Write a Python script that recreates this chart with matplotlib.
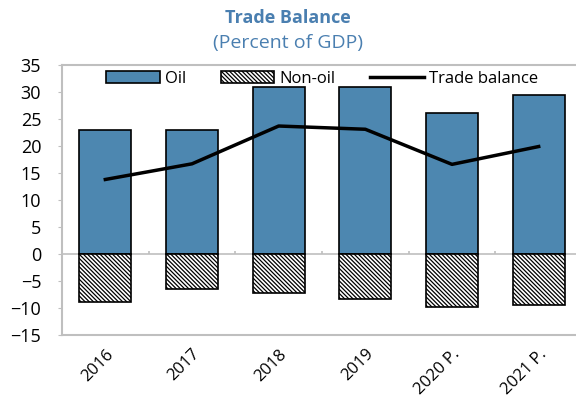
#!/usr/bin/env python3
"""Trade balance chart: oil and non-oil components, percent of GDP."""

import matplotlib
matplotlib.use("Agg")
import matplotlib.pyplot as plt
import numpy as np

years = ["2016", "2017", "2018", "2019", "2020 P.", "2021 P."]
oil = [22.9, 22.9, 30.9, 30.9, 26.2, 29.4]
non_oil = [-8.8, -6.4, -7.2, -8.3, -9.8, -9.5]
trade_balance = [13.8, 16.7, 23.7, 23.1, 16.6, 19.9]

TITLE_COLOR = "#4a7fb0"
OIL_COLOR = "#4d87b0"
FRAME_COLOR = "#bfbfbf"

plt.rcParams["font.family"] = ["Open Sans", "DejaVu Sans"]
plt.rcParams["hatch.linewidth"] = 0.9

fig = plt.figure(figsize=(5.76, 4.0), dpi=100)
ax = fig.add_axes([62 / 576, (400 - 335) / 400, (582 - 62) / 576, 270 / 400])

x = np.arange(len(years))
h_oil = ax.bar(x, oil, width=0.6, color=OIL_COLOR, edgecolor="black", linewidth=1.2,
               label="Oil", zorder=2)
h_non = ax.bar(x, non_oil, width=0.6, color="white", edgecolor="black", linewidth=1.2,
               hatch="\\\\\\\\\\\\\\\\", label="Non-oil", zorder=2)
h_tb, = ax.plot(x, trade_balance, color="black", linewidth=2.5, label="Trade balance",
                zorder=3)

ax.axhline(0, color=FRAME_COLOR, linewidth=1.2, zorder=1)
# small category separators on the zero line
ax.vlines(x[:-1] + 0.5, 0, 0.6, color=FRAME_COLOR, linewidth=1.2, zorder=1)

ax.set_xlim(-0.5, len(years) - 0.5)
ax.set_ylim(-15, 35)
ax.set_yticks(np.arange(-15, 36, 5))
ax.set_xticks(x)
ax.set_xticklabels(years, rotation=45, ha="right", rotation_mode="anchor")

for side in ["left", "top", "bottom", "right"]:
    ax.spines[side].set_color(FRAME_COLOR)
    ax.spines[side].set_linewidth(1.5)

ax.tick_params(axis="y", length=3, color=FRAME_COLOR, labelsize=13, pad=12)
ax.tick_params(axis="x", length=0, labelsize=12, pad=8)

ax.legend([h_oil, h_non, h_tb], ["Oil", "Non-oil", "Trade balance"],
          loc="upper center", ncol=3, frameon=False, fontsize=12,
          bbox_to_anchor=(0.5, 1.035), handlelength=3.2, handleheight=0.8,
          columnspacing=2.1, handletextpad=0.3)

fig.text(0.5, 1 - 18 / 400, "Trade Balance", ha="center", va="center",
         fontsize=13, fontweight="bold", color=TITLE_COLOR)
fig.text(0.5, 1 - 43 / 400, "(Percent of GDP)", ha="center", va="center",
         fontsize=14, color=TITLE_COLOR)

fig.savefig("out.png", dpi=100)
